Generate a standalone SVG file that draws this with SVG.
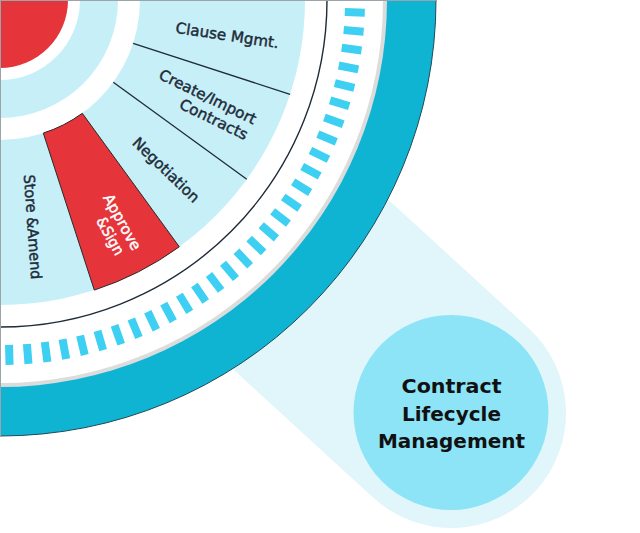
<svg xmlns="http://www.w3.org/2000/svg" xmlns:xlink="http://www.w3.org/1999/xlink" width="640" height="533" viewBox="0 0 640 533">
<defs>
<style>
.lbl{font-family:"DejaVu Sans","Liberation Sans",sans-serif;font-size:15px;fill:#1e2b38;stroke:#1e2b38;stroke-width:0.45;text-anchor:middle}
.wht{fill:#ffffff;stroke:#ffffff}
.ttl{font-family:"DejaVu Sans","Liberation Sans",sans-serif;font-size:19px;font-weight:bold;fill:#111111;text-anchor:middle}
.div{stroke:#1e2b38;stroke-width:1.3;fill:none}
</style>
<rect id="dash" x="345" y="-4" width="20" height="8" fill="#3dd0f2"/>
</defs>
<rect width="640" height="533" fill="#ffffff"/>
<g id="connectors">
<line x1="0" y1="0" x2="451" y2="413" stroke="#e1f6fa" stroke-width="230" stroke-linecap="round"/>
</g>
<g id="wheel">
<path d="M0,0 L436,0 A436,436 0 0 1 0,436 Z" fill="#10b4d3" stroke="#1d4a5a" stroke-width="1"/>
<path d="M0,0 L387,0 A387,387 0 0 1 0,387 Z" fill="#dcdcdc"/>
<path d="M0,0 L383,0 A383,383 0 0 1 0,383 Z" fill="#ffffff"/>
<g id="dashes">
<use xlink:href="#dash" transform="rotate(2)"/>
<use xlink:href="#dash" transform="rotate(4.983)"/>
<use xlink:href="#dash" transform="rotate(7.966)"/>
<use xlink:href="#dash" transform="rotate(10.949)"/>
<use xlink:href="#dash" transform="rotate(13.932)"/>
<use xlink:href="#dash" transform="rotate(16.915)"/>
<use xlink:href="#dash" transform="rotate(19.898)"/>
<use xlink:href="#dash" transform="rotate(22.881)"/>
<use xlink:href="#dash" transform="rotate(25.864)"/>
<use xlink:href="#dash" transform="rotate(28.847)"/>
<use xlink:href="#dash" transform="rotate(31.83)"/>
<use xlink:href="#dash" transform="rotate(34.813)"/>
<use xlink:href="#dash" transform="rotate(37.796)"/>
<use xlink:href="#dash" transform="rotate(40.779)"/>
<use xlink:href="#dash" transform="rotate(43.762)"/>
<use xlink:href="#dash" transform="rotate(46.745)"/>
<use xlink:href="#dash" transform="rotate(49.728)"/>
<use xlink:href="#dash" transform="rotate(52.711)"/>
<use xlink:href="#dash" transform="rotate(55.694)"/>
<use xlink:href="#dash" transform="rotate(58.677)"/>
<use xlink:href="#dash" transform="rotate(61.66)"/>
<use xlink:href="#dash" transform="rotate(64.643)"/>
<use xlink:href="#dash" transform="rotate(67.626)"/>
<use xlink:href="#dash" transform="rotate(70.609)"/>
<use xlink:href="#dash" transform="rotate(73.592)"/>
<use xlink:href="#dash" transform="rotate(76.575)"/>
<use xlink:href="#dash" transform="rotate(79.558)"/>
<use xlink:href="#dash" transform="rotate(82.541)"/>
<use xlink:href="#dash" transform="rotate(85.524)"/>
<use xlink:href="#dash" transform="rotate(88.5)"/>
</g>
<path d="M327,0 A327,327 0 0 1 0,327" fill="none" stroke="#1e2b38" stroke-width="1.4"/>
<path d="M0,0 L305,0 A305,305 0 0 1 0,305 Z" fill="#c6eff8"/>
<path d="M0,0 L140,0 A140,140 0 0 1 0,140 Z" fill="#ffffff"/>
<path d="M0,0 L118,0 A118,118 0 0 1 0,118 Z" fill="#c6eff8"/>
<path d="M0,0 L80,0 A80,80 0 0 1 0,80 Z" fill="#ffffff"/>
<path d="M0,0 L68,0 A68,68 0 0 1 0,68 Z" fill="#e5343a"/>
<line x1="0" y1="0.5" x2="436" y2="0.5" stroke="#9aa4aa" stroke-width="1"/>
<line x1="0.5" y1="0" x2="0.5" y2="436" stroke="#9aa4aa" stroke-width="1"/>
</g>
<g id="node-clause">
<line class="div" x1="133.1" y1="43.3" x2="290.1" y2="94.3"/>
<text class="lbl" transform="translate(226.5,40.5) rotate(8.5)" textLength="104" lengthAdjust="spacingAndGlyphs">Clause Mgmt.</text>
</g>
<g id="node-create">
<line class="div" x1="113.3" y1="82.3" x2="246.8" y2="179.3"/>
<text class="lbl" transform="translate(205.5,101.5) rotate(26)" textLength="106" lengthAdjust="spacingAndGlyphs">Create/Import</text>
<text class="lbl" transform="translate(211.5,124) rotate(26)" textLength="74" lengthAdjust="spacingAndGlyphs">Contracts</text>
</g>
<g id="node-negotiation">
<text class="lbl" transform="translate(162.5,173.6) rotate(44)" textLength="86" lengthAdjust="spacingAndGlyphs">Negotiation</text>
</g>
<g id="node-approve">
<path d="M82.3,113.3 L179.3,246.8 A305,305 0 0 1 94.3,290.1 L43.3,133.1 A140,140 0 0 0 82.3,113.3 Z" fill="#e5343a" stroke="#2a2a2a" stroke-width="1"/>
<text class="lbl wht" transform="translate(117.7,224.5) rotate(61)" textLength="62" lengthAdjust="spacingAndGlyphs">Approve</text>
<text class="lbl wht" transform="translate(105.7,238.5) rotate(61)" textLength="41" lengthAdjust="spacingAndGlyphs">&amp;Sign</text>
</g>
<g id="node-store">
<text class="lbl" transform="translate(27.5,227.3) rotate(86)" textLength="105" lengthAdjust="spacingAndGlyphs">Store &amp;Amend</text>
</g>
<g id="node-clm">
<circle cx="451" cy="412.5" r="97.5" fill="#8de4f7"/>
<text class="ttl" x="451.5" y="393" textLength="100" lengthAdjust="spacingAndGlyphs">Contract</text>
<text class="ttl" x="451.5" y="420.5" textLength="99" lengthAdjust="spacingAndGlyphs">Lifecycle</text>
<text class="ttl" x="451.5" y="447.5" textLength="147" lengthAdjust="spacingAndGlyphs">Management</text>
</g>
</svg>
